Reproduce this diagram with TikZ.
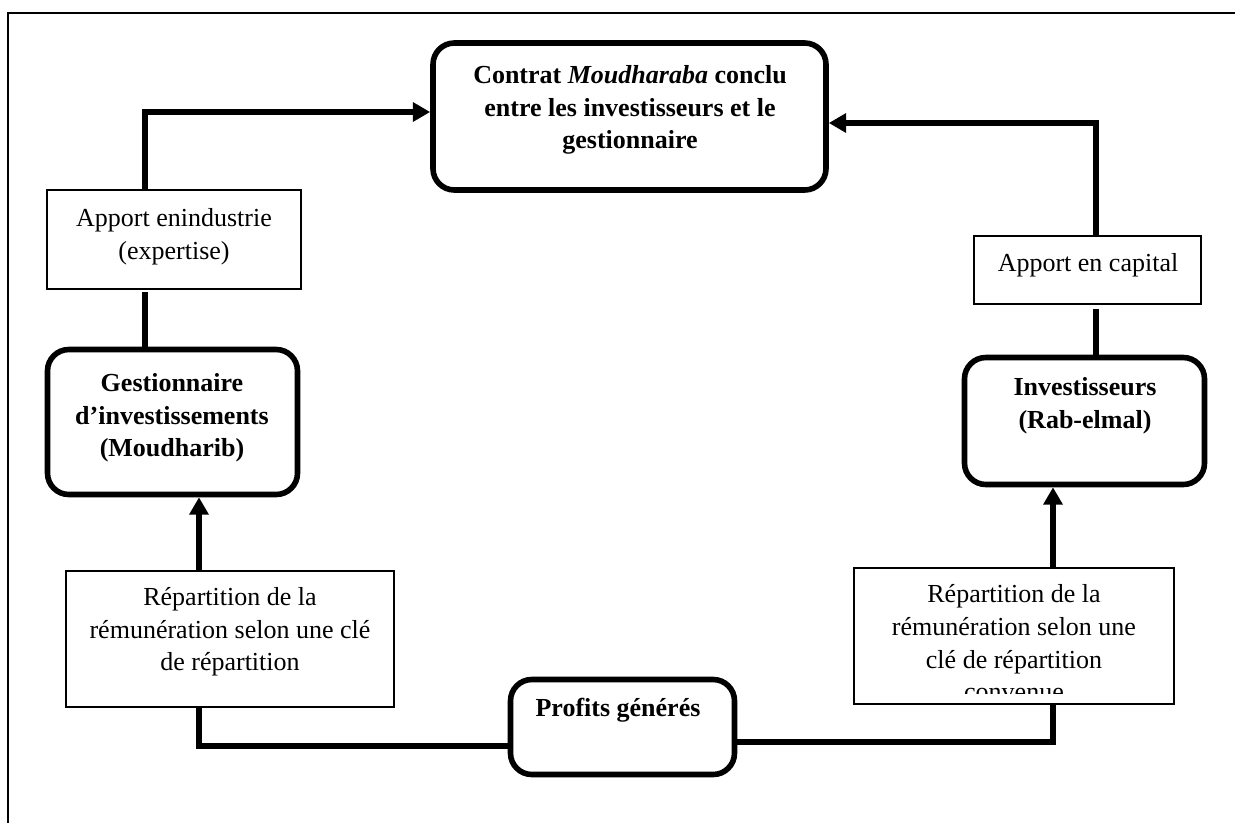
\documentclass[tikz,border=0pt]{standalone}
\usepackage{fontspec}
\setmainfont{Liberation Serif}
\usetikzlibrary{arrows.meta,fit}
\begin{document}
\begin{tikzpicture}[x=0.75pt,y=-0.75pt,
  rbox/.style={draw, line width=4.2pt, rounded corners=16pt, inner sep=0pt},
  pbox/.style={draw, line width=0.9pt, inner sep=0pt},
  lbl/.style={align=center, inner sep=0pt, font=\fontsize{19.5}{24.5}\selectfont},
  blbl/.style={lbl, font=\fontsize{19.5}{24.5}\selectfont\bfseries},
  link/.style={line width=4.2pt},
  flow/.style={link, -{Triangle[length=13pt,width=14pt]}}]
\useasboundingbox (0,0) rectangle (1235,822);
% outer frame
\draw[line width=1.2pt] (8,830) -- (8,13) -- (1245,13);

% boxes
\node[rbox, fit={(433,43) (826,190)}] (contrat) {};
\node[blbl] (contrat-t) at (630,110) {Contrat \textit{Moudharaba} conclu\\entre les investisseurs et le\\gestionnaire};

\node[pbox, fit={(47,190) (301,289)}] (apind) {};
\node[lbl] (apind-t) at (174,237) {Apport enindustrie\\(expertise)};

\node[rbox, fit={(47.5,349.5) (297.5,494.5)}] (gest) {};
\node[blbl] (gest-t) at (172,418) {Gestionnaire\\d'investissements\\(Moudharib)};

\node[pbox, fit={(974,236) (1201,304)}] (apcap) {};
\node[lbl] (apcap-t) at (1088,265) {Apport en capital};

\node[rbox, fit={(964.5,357.5) (1204.5,484.5)}] (inv) {};
\node[blbl] (inv-t) at (1085,406) {Investisseurs\\(Rab-elmal)};

\node[pbox, fit={(66,571) (394,707)}] (repL) {};
\node[lbl] (repL-t) at (230,632) {Répartition de la\\rémunération selon une clé\\de répartition};

\node[pbox, fit={(854,568) (1174,704)}] (repR) {};
\begin{scope}
  \clip (855,569) rectangle (1173,693);
  \node[lbl] (repR-t) at (1014,643) {Répartition de la\\rémunération selon une\\clé de répartition\\convenue};
\end{scope}

\node[rbox, fit={(510.5,679.5) (734.5,774.5)}] (profits) {};
\node[blbl] (profits-t) at (618,710) {Profits générés};

% connector columns and levels
\coordinate (lcol) at (145,112);
\coordinate (lcol2) at (199,746);
\coordinate (rcol) at (1096,123);
\coordinate (rcol2) at (1053,742);

% left side
\draw[flow] (apind.north -| lcol) |- (contrat.west |- lcol);
\draw[link] ([yshift=-2pt]apind.south -| lcol) -- (gest.north -| lcol);
\draw[flow] (repL.north -| lcol2) -- (gest.south -| lcol2);
\draw[link] (repL.south -| lcol2) |- (profits.west |- lcol2);

% right side
\draw[link] (profits.east |- rcol2) -| (repR.south -| rcol2);
\draw[flow] (repR.north -| rcol2) -- (inv.south -| rcol2);
\draw[link] (inv.north -| rcol) -- ([yshift=-3pt]apcap.south -| rcol);
\draw[flow] (apcap.north -| rcol) |- (contrat.east |- rcol);
\end{tikzpicture}
\end{document}
